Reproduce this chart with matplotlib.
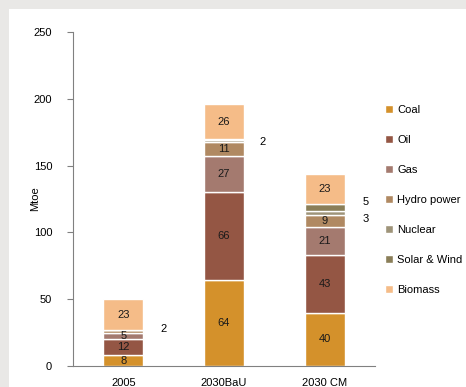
import numpy as np
import matplotlib.pyplot as plt
from matplotlib.patches import Rectangle

plt.rcParams['font.family'] = ['Liberation Sans', 'DejaVu Sans']

# Primary energy supply by fuel (Mtoe)
scenarios = ['2005', '2030BaU', '2030 CM']
fuels = ['Coal', 'Oil', 'Gas', 'Hydro power', 'Nuclear', 'Solar & Wind', 'Biomass']
coal = [8, 64, 40]
oil = [12, 66, 43]
gas = [5, 27, 21]
hydro = [2, 11, 9]
nuclear = [0, 1, 3]
solar_wind = [0, 1, 5]
biomass = [23, 26, 23]

colors = ['#d4912b', '#945644', '#a47a6f', '#b08962', '#9e9479', '#8a7e58', '#f5bc88']

series = [coal, oil, gas, hydro, nuclear, solar_wind, biomass]
fs = 8

fig = plt.figure(figsize=(4.66, 3.87), dpi=100, facecolor='#e9e8e6')
# white card on the grey paper
fig.patches.append(Rectangle((9 / 466, 0), 1, 1 - 9 / 387, transform=fig.transFigure,
                             facecolor='white', edgecolor='none', zorder=-1))

ax = fig.add_axes([73 / 466, 1 - 366 / 387, 302 / 466, 334 / 387])
ax.set_zorder(2)
ax.set_facecolor('none')

x = np.arange(len(scenarios))
bottom = np.zeros(len(scenarios))
for name, vals, c in zip(fuels, series, colors):
    ax.bar(x, vals, 0.4, bottom=bottom, color=c, edgecolor='white', linewidth=1,
           label=name, zorder=2)
    bottom += np.array(vals)

# values written inside the bars (nuclear and solar go beside them)
base = np.zeros(len(scenarios))
for name, vals in zip(fuels, series):
    vals = np.array(vals)
    if name not in ('Nuclear', 'Solar & Wind'):
        for i, v in enumerate(vals):
            if v >= 5:
                ax.text(x[i], base[i] + v / 2, str(v), ha='center', va='center',
                        fontsize=fs, color='#1a1a1a', zorder=3)
    base += vals

# small segments labelled beside the bars
cum = np.cumsum(np.array(series), axis=0)
ax.text(x[0] + 0.4, cum[3][0] - 1 + 2, str(hydro[0]), ha='center', va='center', fontsize=fs)
ax.text(x[1] + 0.38, cum[5][1] - 1 - 1.3, str(nuclear[1] + solar_wind[1]),
        ha='center', va='center', fontsize=fs)
ax.text(x[2] + 0.41, cum[5][2] - solar_wind[2] / 2 + 4, str(solar_wind[2]),
        ha='center', va='center', fontsize=fs)
ax.text(x[2] + 0.41, cum[4][2] - nuclear[2] / 2 - 4.5, str(nuclear[2]),
        ha='center', va='center', fontsize=fs)

ax.set_xlim(-0.5, 2.5)
ax.set_ylim(0, 250)
ax.set_yticks(np.arange(0, 251, 50))
ax.set_xticks(x)
ax.set_xticklabels(scenarios)
ax.tick_params(axis='x', length=0, labelsize=fs, pad=9)
ax.tick_params(axis='y', length=4, color='#808080', labelsize=fs, pad=11)
for s in ['top', 'right']:
    ax.spines[s].set_visible(False)
for s in ['left', 'bottom']:
    ax.spines[s].set_color('#808080')
    ax.spines[s].set_linewidth(0.8)
ax.set_ylabel('Mtoe', fontsize=fs)
ax.yaxis.set_label_coords(-33 / 302, 0.5)

handles, labels = ax.get_legend_handles_labels()
ax.legend(handles, labels, loc='upper left', bbox_to_anchor=(1.02, 0.795), frameon=False,
          fontsize=fs, handlelength=0.7, handleheight=0.7, handletextpad=0.35,
          labelspacing=1.8, borderaxespad=0)

fig.savefig('out.png', dpi=100, facecolor=fig.get_facecolor())
